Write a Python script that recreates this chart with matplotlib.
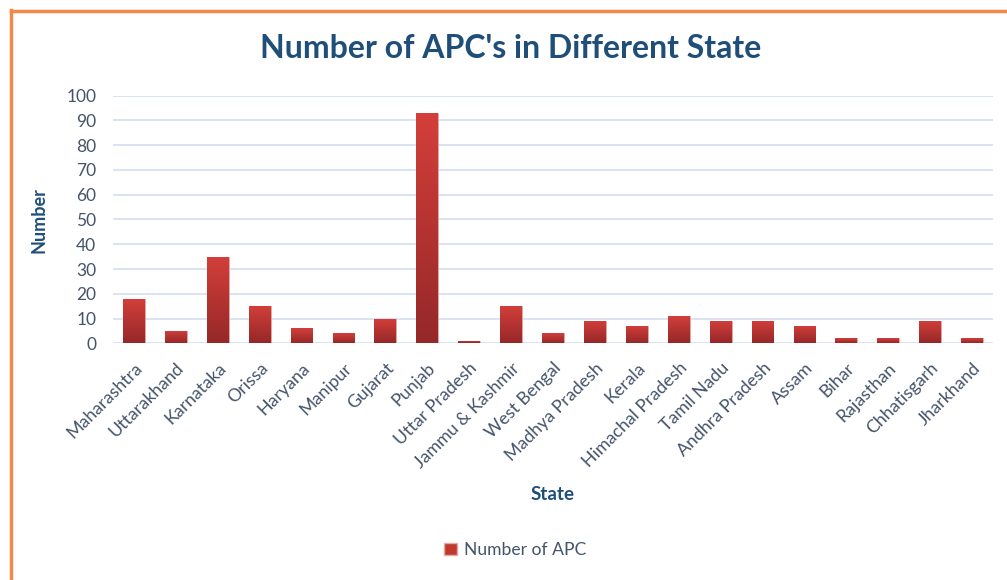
import matplotlib
matplotlib.use("Agg")
import matplotlib.pyplot as plt
import numpy as np
from matplotlib.colors import LinearSegmentedColormap
from matplotlib.lines import Line2D
from matplotlib.patches import Rectangle

states = ["Maharashtra", "Uttarakhand", "Karnataka", "Orissa", "Haryana", "Manipur",
          "Gujarat", "Punjab", "Uttar Pradesh", "Jammu & Kashmir", "West Bengal",
          "Madhya Pradesh", "Kerala", "Himachal Pradesh", "Tamil Nadu", "Andhra Pradesh",
          "Assam", "Bihar", "Rajasthan", "Chhatisgarh", "Jharkhand"]
apc_counts = [18, 5, 35, 15, 6, 4, 10, 93, 1, 15, 4, 9, 7, 11, 9, 9, 7, 2, 2, 9, 2]
y_ticks = list(range(0, 101, 10))

title_color = "#1F4E79"
tick_color = "#44546A"
grid_color = "#D6E1F0"
font = ["Lato", "DejaVu Sans"]

fig = plt.figure(figsize=(10.07, 5.8), dpi=100)
ax = fig.add_axes([113/1007, 1-343.3/580, (993-113)/1007, (343.3-95.7)/580])

x = np.arange(len(states))
bars = ax.bar(x, apc_counts, width=0.52, color="#C0392F", zorder=3,
              edgecolor="#E8A8A4", linewidth=0.6)

# gradient fill for each bar (top lighter red, bottom darker)
cmap = LinearSegmentedColormap.from_list("g", ["#952828", "#D43F3B"])
grad = np.linspace(0, 1, 256).reshape(-1, 1)
for b in bars:
    x0, y0 = b.get_x(), b.get_y()
    w, h = b.get_width(), b.get_height()
    im = ax.imshow(grad, cmap=cmap, aspect="auto", origin="lower",
                   extent=[x0, x0 + w, y0, y0 + h], zorder=3.5)
    im.set_clip_path(b)

ax.set_xlim(-0.5, len(states) - 0.5)
ax.set_ylim(0, 100)
ax.set_yticks(y_ticks)
ax.set_yticklabels([str(t) for t in y_ticks], fontfamily=font, fontsize=12.5, color=tick_color)
ax.set_xticks(x)
ax.set_xticklabels(states, rotation=45, ha="right", rotation_mode="anchor",
                   fontfamily=font, fontsize=12.8, color=tick_color)
ax.tick_params(axis="y", length=0, pad=12)
ax.tick_params(axis="x", length=0, pad=12)
ax.grid(axis="y", color=grid_color, linewidth=1.3, zorder=0)
for s in ax.spines.values():
    s.set_visible(False)

ax.set_ylabel("Number", fontfamily=font, fontsize=13, fontweight="bold", color=title_color)
ax.yaxis.set_label_coords((47-113)/880, (343.3-220)/247.6, transform=ax.transAxes)
ax.set_xlabel("State", fontfamily=font, fontsize=13.5, fontweight="bold", color=title_color)
ax.xaxis.set_label_coords((553-113)/880, (343.3-486)/247.6, transform=ax.transAxes)

fig.text(511/1007, 1-48/580, "Number of APC's in Different State", ha="center", va="center",
         fontfamily=font, fontsize=23, fontweight="bold", color=title_color)

leg = ax.legend([Rectangle((0, 0), 1, 1, facecolor="#C0392F", edgecolor="#E8A8A4")],
                ["Number of APC"], loc="center", bbox_to_anchor=(515/1007, 1-550/580),
                bbox_transform=fig.transFigure, frameon=False, handlelength=0.7,
                handleheight=0.7, handletextpad=0.4,
                prop={"family": font, "size": 12.6})
for t in leg.get_texts():
    t.set_color(tick_color)

# orange frame border (top and left)
border = "#F4884A"
fig.add_artist(Line2D([10.5/1007, 1.0], [1-11/580, 1-11/580], color=border, linewidth=2.5,
                      transform=fig.transFigure))
fig.add_artist(Line2D([11/1007, 11/1007], [0, 1-10/580], color=border, linewidth=2.5,
                      transform=fig.transFigure))

fig.savefig("out.png", dpi=100)
